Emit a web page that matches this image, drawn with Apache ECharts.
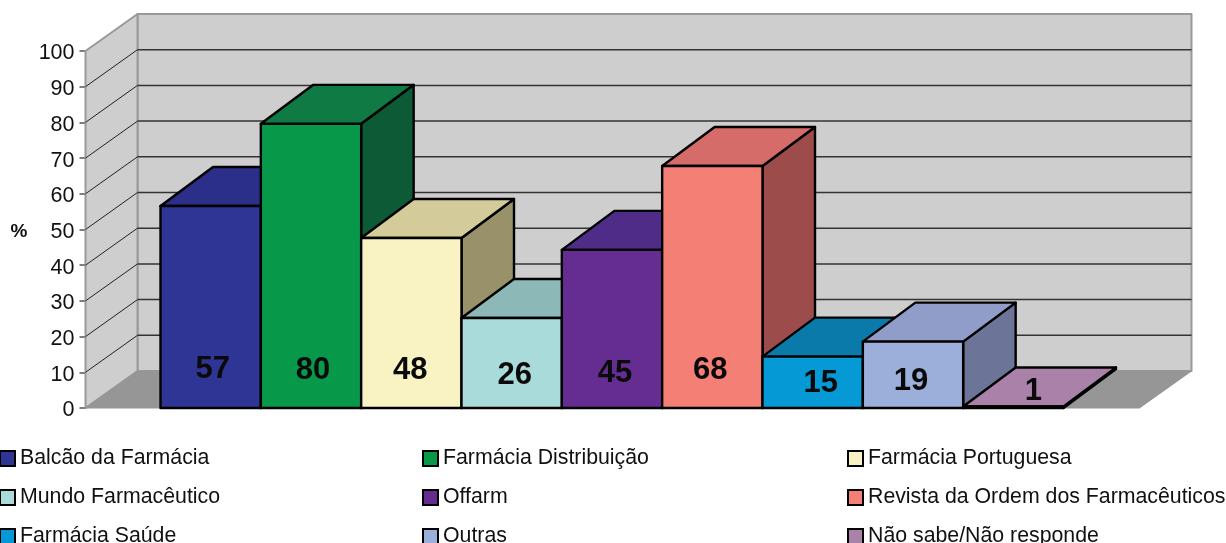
<!DOCTYPE html>
<html>
<head>
<meta charset="utf-8">
<script src="https://cdn.jsdelivr.net/npm/echarts@6/dist/echarts.min.js"></script>
<style>
  html, body { margin: 0; padding: 0; background: #fff; }
  #main { width: 1226px; height: 543px; }
</style>
</head>
<body>
<div id="main"></div>
<script>
var names = [
  'Balcão da Farmácia', 'Farmácia Distribuição', 'Farmácia Portuguesa',
  'Mundo Farmacêutico', 'Offarm', 'Revista da Ordem dos Farmacêuticos',
  'Farmácia Saúde', 'Outras', 'Não sabe/Não responde'
];
var values = [57, 80, 48, 26, 45, 68, 15, 19, 1];
// bars are drawn a little short of their printed value, as in the source
var heights = [56.6, 79.6, 47.6, 25.2, 44.3, 67.8, 14.4, 18.6, 0.4];
var colors = ['#2e3594', '#07984a', '#f9f3c3', '#a9dbdb', '#652d91', '#f47f75', '#0599d5', '#9cafda', '#a981a9'];
var topColors = ['#2b2f8a', '#0f7a43', '#d3cb9a', '#8db8b8', '#4f2c88', '#d66c69', '#0a7aab', '#8f9dc8', '#a981a9'];
var sideColors = ['#1f2468', '#0d5a36', '#98916a', '#6f9090', '#3f2070', '#9c4c4b', '#075c80', '#6c7598', '#7a5a78'];
var yTicks = { min: 0, max: 100, interval: 10 };

// where the data labels sit (they are not centred in the source)
var labelLevels = [10.8, 10.6, 10.6, 9.2, 9.8, 10.6, 7.0, 7.5, 4.7];
var labelNudge = [2, 2, -1, 3, 3, -2, 8, -2, 20];

var wallDepthX = 52;
var wallDepthY = -37;
var barDepthX = 52.5;
var barDepthY = -39;
var wallPad = 75;
var edge = '#000';

function face(points, fill, stroke, width) {
  return {
    type: 'polygon',
    shape: { points: points },
    style: { fill: fill, stroke: stroke, lineWidth: width, lineJoin: 'round' }
  };
}

function renderWalls(params, api) {
  var g = params.coordSys;
  var left = g.x - wallPad;
  var right = g.x + g.width + wallPad + 1;
  var bottom = g.y + g.height;
  var top = g.y;
  var dx = wallDepthX;
  var dy = wallDepthY;
  var kids = [
    face([[left + dx, top + dy], [right + dx, top + dy], [right + dx, bottom + dy], [left + dx, bottom + dy]], '#cecece', '#999999', 2),
    face([[left, top], [left + dx, top + dy], [left + dx, bottom + dy], [left, bottom]], '#cecece', '#999999', 2),
    face([[left, bottom], [left + dx, bottom + dy], [right + dx, bottom + dy], [right, bottom]], '#969696', '#969696', 1)
  ];
  for (var v = yTicks.interval; v < yTicks.max; v += yTicks.interval) {
    var y = api.coord([0, v])[1];
    kids.push({ type: 'line', shape: { x1: left, y1: y, x2: left + dx, y2: y + dy }, style: { stroke: '#222', lineWidth: 1 } });
    kids.push({ type: 'line', shape: { x1: left + dx, y1: y + dy, x2: right + dx, y2: y + dy }, style: { stroke: '#333', lineWidth: 1.5 } });
  }
  return { type: 'group', children: kids };
}

function renderBar(params, api) {
  var i = api.value(0);
  var top = api.coord([i, api.value(1)]);
  var base = api.coord([i, 0]);
  var w = api.size([1, 0])[0];
  var x0 = top[0] - w / 2;
  var x1 = top[0] + w / 2;
  var dx = barDepthX;
  var dy = barDepthY;
  var labelPos = api.coord([i, labelLevels[i]]);
  return {
    type: 'group',
    children: [
      face([[x1, base[1]], [x1 + dx, base[1] + dy], [x1 + dx, top[1] + dy], [x1, top[1]]], sideColors[i], edge, 2.4),
      face([[x0, top[1]], [x0 + dx, top[1] + dy], [x1 + dx, top[1] + dy], [x1, top[1]]], topColors[i], edge, 2.4),
      face([[x0, base[1]], [x0, top[1]], [x1, top[1]], [x1, base[1]]], colors[i], edge, 2.4),
      {
        type: 'text',
        x: labelPos[0] + labelNudge[i],
        y: labelPos[1],
        style: {
          text: String(values[i]),
          font: 'bold 31px "Liberation Sans", Arial, sans-serif',
          fill: '#0a0a0a',
          align: 'center',
          verticalAlign: 'middle'
        }
      }
    ]
  };
}

var series = [{
  type: 'custom',
  name: 'walls',
  silent: true,
  renderItem: renderWalls,
  data: [[0, 0]]
}];
names.forEach(function (name, i) {
  series.push({
    type: 'custom',
    name: name,
    renderItem: renderBar,
    itemStyle: { color: colors[i] },
    encode: { x: 0, y: 1 },
    data: [[i, heights[i]]]
  });
});

function legendColumn(left, picks) {
  return {
    left: left,
    top: 448,
    height: 120,
    orient: 'vertical',
    padding: 0,
    itemGap: 18,
    itemWidth: 15,
    itemHeight: 15,
    icon: 'rect',
    selectedMode: false,
    itemStyle: { borderColor: edge, borderWidth: 2 },
    textStyle: { fontFamily: '"Liberation Sans", Arial, sans-serif', fontSize: 21.3, color: '#111', lineHeight: 20 },
    data: picks
  };
}

var option = {
  backgroundColor: '#fff',
  animation: false,
  grid: { left: 160.5, right: 162.5, top: 51, bottom: 135 },
  legend: [
    legendColumn(-1, [names[0], names[3], names[6]]),
    legendColumn(422, [names[1], names[4], names[7]]),
    legendColumn(847, [names[2], names[5], names[8]])
  ],
  xAxis: {
    type: 'category',
    data: names,
    axisLabel: { show: false },
    axisTick: { show: false },
    axisLine: { show: false }
  },
  yAxis: {
    type: 'value',
    min: yTicks.min,
    max: yTicks.max,
    interval: yTicks.interval,
    offset: 75,
    name: '%',
    nameLocation: 'middle',
    nameRotate: 0,
    nameGap: 58,
    nameTextStyle: { fontFamily: '"Liberation Sans", Arial, sans-serif', fontWeight: 'bold', fontSize: 19, color: '#111', verticalAlign: 'top', lineHeight: 4 },
    axisLine: { show: true, lineStyle: { color: '#333', width: 1.5 } },
    axisTick: { show: true, length: 6, lineStyle: { color: '#555', width: 1.5 } },
    axisLabel: { fontFamily: '"Liberation Sans", Arial, sans-serif', fontSize: 21.5, color: '#111', margin: 11, verticalAlign: 'top', lineHeight: 5 },
    splitLine: { show: false }
  },
  series: series
};

var myChart = echarts.init(document.getElementById('main'));
myChart.setOption(option);
</script>
</body>
</html>
